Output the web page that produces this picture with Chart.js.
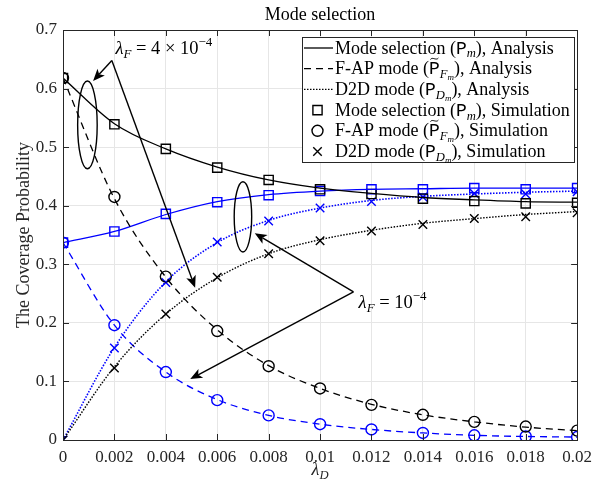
<!DOCTYPE html>
<html>
<head>
<meta charset="utf-8">
<script src="https://cdn.jsdelivr.net/npm/chart.js@4.4.1/dist/chart.umd.min.js"></script>
<style>
  html, body { margin: 0; padding: 0; background: #fff; }
  canvas { display: block; }
</style>
</head>
<body>
<canvas id="myChart" width="599" height="486" style="width:599px;height:486px"></canvas>
<script>
// x values (lambda_D) and tick labels
const lambdaD = [0, 0.002, 0.004, 0.006, 0.008, 0.01, 0.012, 0.014, 0.016, 0.018, 0.02];
const xTicks = [0, 0.002, 0.004, 0.006, 0.008, 0.01, 0.012, 0.014, 0.016, 0.018, 0.02];
const xTickLabels = ['0', '0.002', '0.004', '0.006', '0.008', '0.01', '0.012', '0.014', '0.016', '0.018', '0.02'];
const yTicks = [0, 0.1, 0.2, 0.3, 0.4, 0.5, 0.6, 0.7];
const yTickLabels = ['0', '0.1', '0.2', '0.3', '0.4', '0.5', '0.6', '0.7'];

// lambda_F = 4e-4 (black)
const modeAnaF4 = [0.618, 0.540, 0.497, 0.466, 0.444, 0.430, 0.421, 0.414, 0.410, 0.407, 0.406];
const modeSimF4 = [0.618, 0.539, 0.497, 0.465, 0.444, 0.428, 0.420, 0.412, 0.408, 0.404, 0.405];
const fapAnaF4 = [0.618, 0.412, 0.278, 0.188, 0.127, 0.088, 0.061, 0.043, 0.031, 0.022, 0.016];
const fapSimF4 = [0.618, 0.415, 0.279, 0.186, 0.126, 0.088, 0.060, 0.043, 0.031, 0.023, 0.016];
const d2dAnaF4 = [0, 0.125, 0.215, 0.277, 0.318, 0.342, 0.358, 0.370, 0.378, 0.385, 0.390];
const d2dSimF4 = [0, 0.123, 0.215, 0.278, 0.318, 0.340, 0.357, 0.368, 0.378, 0.381, 0.388];

// lambda_F = 1e-4 (blue)
const modeAnaF1 = [0.337, 0.356, 0.385, 0.407, 0.419, 0.425, 0.428, 0.429, 0.430, 0.430, 0.430];
const modeSimF1 = [0.337, 0.356, 0.386, 0.406, 0.418, 0.425, 0.428, 0.428, 0.430, 0.428, 0.430];
const fapAnaF1 = [0.337, 0.196, 0.116, 0.069, 0.042, 0.027, 0.018, 0.012, 0.008, 0.006, 0.005];
const fapSimF1 = [0.337, 0.196, 0.116, 0.068, 0.042, 0.027, 0.018, 0.012, 0.008, 0.006, 0.005];
const d2dAnaF1 = [0, 0.158, 0.270, 0.337, 0.375, 0.396, 0.409, 0.416, 0.420, 0.423, 0.425];
const d2dSimF1 = [0, 0.157, 0.269, 0.338, 0.374, 0.396, 0.407, 0.415, 0.421, 0.420, 0.424];

const SERIF = '"Liberation Serif", "DejaVu Serif", serif';
const MONO = '"Liberation Mono", "DejaVu Sans Mono", monospace';
const FS = 17;      // tick labels
const TS = 18;      // legend, title, axis labels
const AS = 18.5;    // annotation text
const AXIS_COLOR = '#262626';
const BLACK = '#000000';
const BLUE = '#0000ff';

function pts(arr) {
    return lambdaD.map(function (x, i) { return { x: x, y: arr[i] }; });
}

function analysis(arr, color, dash, width) {
    return {
        data: pts(arr), borderColor: color, borderWidth: width || 1.3, borderDash: dash,
        pointRadius: 0, cubicInterpolationMode: 'monotone', fill: false
    };
}

function simulation(arr, color, style, r) {
    return {
        data: pts(arr), showLine: false, borderColor: color, backgroundColor: 'rgba(0,0,0,0)',
        pointStyle: style, pointRadius: r, pointBorderWidth: 1.4, pointHoverRadius: r
    };
}

// rich text: list of parts, y is the baseline
function drawParts(ctx, x, y, parts, size) {
    var cx = x;
    ctx.textAlign = 'left';
    ctx.textBaseline = 'alphabetic';
    parts.forEach(function (p) {
        var s = size * (p.scale || 1);
        ctx.font = (p.italic ? 'italic ' : '') + s + 'px ' + (p.mono ? MONO : SERIF);
        var w = ctx.measureText(p.t).width;
        ctx.fillText(p.t, cx, y + (p.dy || 0) * size);
        if (p.tilde) {
            // small tilde accent over the letter
            var c = cx + w / 2, t = y - 0.86 * s;
            ctx.save();
            ctx.lineWidth = 1;
            ctx.strokeStyle = ctx.fillStyle;
            ctx.beginPath();
            ctx.moveTo(c - 0.22 * s, t + 0.04 * s);
            ctx.bezierCurveTo(c - 0.1 * s, t - 0.12 * s, c + 0.1 * s, t + 0.12 * s, c + 0.22 * s, t - 0.04 * s);
            ctx.stroke();
            ctx.restore();
        }
        cx += w;
    });
    return cx - x;
}

const PM = [{ t: 'P', mono: true }, { t: 'm', italic: true, scale: 0.7, dy: 0.22 }];
const PF = [{ t: 'P', mono: true, tilde: true }, { t: 'F', italic: true, scale: 0.7, dy: 0.22 }, { t: 'm', italic: true, scale: 0.5, dy: 0.34 }];
const PD = [{ t: 'P', mono: true }, { t: 'D', italic: true, scale: 0.7, dy: 0.22 }, { t: 'm', italic: true, scale: 0.5, dy: 0.34 }];

function label(pre, sym, post) {
    return [{ t: pre }].concat(sym).concat([{ t: post }]);
}

const legendItems = [
    { kind: 'line', dash: [], parts: label('Mode selection (', PM, '), Analysis') },
    { kind: 'line', dash: [7, 5], parts: label('F-AP mode (', PF, '), Analysis') },
    { kind: 'line', dash: [1.5, 1.5], parts: label('D2D mode (', PD, '), Analysis') },
    { kind: 'rect', parts: label('Mode selection (', PM, '), Simulation') },
    { kind: 'circle', parts: label('F-AP mode (', PF, '), Simulation') },
    { kind: 'crossRot', parts: label('D2D mode (', PD, '), Simulation') }
];

function arrow(ctx, x0, y0, x1, y1) {
    var a = Math.atan2(y1 - y0, x1 - x0);
    var len = 12, hw = 5, back = 3;
    ctx.beginPath();
    ctx.moveTo(x0, y0);
    ctx.lineTo(x1 - Math.cos(a) * (len - back), y1 - Math.sin(a) * (len - back));
    ctx.stroke();
    ctx.beginPath();
    ctx.moveTo(x1, y1);
    ctx.lineTo(x1 - Math.cos(a) * len - Math.sin(a) * hw, y1 - Math.sin(a) * len + Math.cos(a) * hw);
    ctx.lineTo(x1 - Math.cos(a) * (len - back), y1 - Math.sin(a) * (len - back));
    ctx.lineTo(x1 - Math.cos(a) * len + Math.sin(a) * hw, y1 - Math.sin(a) * len - Math.cos(a) * hw);
    ctx.closePath();
    ctx.fill();
}

const decor = {
    id: 'decor',
    beforeDraw: function (chart) {
        var ctx = chart.ctx;
        ctx.save();
        ctx.fillStyle = '#fff';
        ctx.fillRect(0, 0, chart.width, chart.height);
        ctx.restore();
    },
    afterDatasetsDraw: function (chart) {
        var ctx = chart.ctx, a = chart.chartArea;
        var xs = chart.scales.x, ys = chart.scales.y;
        var px = function (x) { return xs.getPixelForValue(x); };
        var py = function (y) { return ys.getPixelForValue(y); };
        ctx.save();

        // annotations: ellipses, arrows, texts
        ctx.strokeStyle = BLACK;
        ctx.fillStyle = BLACK;
        ctx.lineWidth = 1.4;
        ctx.beginPath();
        ctx.ellipse(px(0.00095), py(0.538), px(0.00038) - px(0), py(0) - py(0.075), 0, 0, Math.PI * 2);
        ctx.stroke();
        ctx.beginPath();
        ctx.ellipse(px(0.007), py(0.381), px(0.00034) - px(0), py(0) - py(0.06), 0, 0, Math.PI * 2);
        ctx.stroke();

        arrow(ctx, px(0.0019), py(0.648), px(0.00117), py(0.613));
        arrow(ctx, px(0.0019), py(0.648), px(0.00514), py(0.26));
        arrow(ctx, px(0.0113), py(0.253), px(0.00746), py(0.353));
        arrow(ctx, px(0.0113), py(0.253), px(0.00495), py(0.104));

        drawParts(ctx, px(0.00204), py(0.669) + 6, [
            { t: 'λ', italic: true }, { t: 'F', italic: true, scale: 0.7, dy: 0.22 },
            { t: ' = 4 × 10' }, { t: '−4', scale: 0.7, dy: -0.42 }
        ], AS);
        drawParts(ctx, px(0.0115), py(0.236) + 6, [
            { t: 'λ', italic: true }, { t: 'F', italic: true, scale: 0.7, dy: 0.22 },
            { t: ' = 10' }, { t: '−4', scale: 0.7, dy: -0.42 }
        ], AS);

        // box and inward ticks
        ctx.strokeStyle = AXIS_COLOR;
        ctx.lineWidth = 1;
        ctx.setLineDash([]);
        ctx.beginPath();
        xTicks.forEach(function (v) {
            var x = Math.round(px(v)) + 0.5;
            ctx.moveTo(x, a.bottom); ctx.lineTo(x, a.bottom - 6);
            ctx.moveTo(x, a.top); ctx.lineTo(x, a.top + 6);
        });
        yTicks.forEach(function (v) {
            var y = Math.round(py(v)) + 0.5;
            ctx.moveTo(a.left, y); ctx.lineTo(a.left + 6, y);
            ctx.moveTo(a.right, y); ctx.lineTo(a.right - 6, y);
        });
        ctx.stroke();
        ctx.strokeRect(Math.round(a.left) + 0.5, Math.round(a.top) + 0.5, Math.round(a.right - a.left), Math.round(a.bottom - a.top));

        // legend
        var lx = 302, ly = 37, lw = 272, lh = 125;
        ctx.fillStyle = '#fff';
        ctx.fillRect(lx, ly, lw, lh);
        ctx.strokeStyle = AXIS_COLOR;
        ctx.strokeRect(lx + 0.5, ly + 0.5, lw, lh);
        legendItems.forEach(function (item, i) {
            var cy = 48 + i * 20.7;
            ctx.strokeStyle = BLACK;
            ctx.fillStyle = BLACK;
            if (item.kind === 'line') {
                ctx.lineWidth = 1.3;
                ctx.setLineDash(item.dash);
                ctx.beginPath();
                ctx.moveTo(304, cy); ctx.lineTo(333, cy);
                ctx.stroke();
                ctx.setLineDash([]);
            } else {
                ctx.lineWidth = 1.4;
                ctx.fillStyle = 'rgba(0,0,0,0)';
                Chart.helpers.drawPoint(ctx, { pointStyle: item.kind, radius: item.kind === 'circle' ? 5.5 : (item.kind === 'rect' ? 6.5 : 6), borderWidth: 1.4, rotation: 0 }, 317.5, cy);
                ctx.fillStyle = BLACK;
            }
            drawParts(ctx, 335, cy + 5.5, item.parts, TS);
        });
        ctx.restore();
    },
    afterDraw: function (chart) {
        var ctx = chart.ctx, a = chart.chartArea;
        var mid = (a.left + a.right) / 2;
        ctx.save();
        ctx.fillStyle = BLACK;
        ctx.font = TS + 'px ' + SERIF;
        ctx.textAlign = 'center';
        ctx.textBaseline = 'alphabetic';
        ctx.fillText('Mode selection', mid, 20);

        ctx.fillStyle = AXIS_COLOR;
        ctx.font = 'italic ' + TS + 'px ' + SERIF;
        var w = ctx.measureText('λ').width + ctx.measureText('D').width * 0.7;
        drawParts(ctx, mid - w / 2, 475, [{ t: 'λ', italic: true }, { t: 'D', italic: true, scale: 0.7, dy: 0.22 }], TS);

        ctx.translate(29, (a.top + a.bottom) / 2);
        ctx.rotate(-Math.PI / 2);
        ctx.font = TS + 'px ' + SERIF;
        ctx.textAlign = 'center';
        ctx.fillText('The Coverage Probability', 0, 0);
        ctx.restore();
    }
};

const tickFont = { family: SERIF, size: FS };

new Chart(document.getElementById('myChart'), {
    type: 'line',
    data: {
        datasets: [
            analysis(modeAnaF4, BLACK, []),
            analysis(fapAnaF4, BLACK, [7, 5]),
            analysis(d2dAnaF4, BLACK, [1.5, 1.5], 1.4),
            analysis(modeAnaF1, BLUE, []),
            analysis(fapAnaF1, BLUE, [7, 5]),
            analysis(d2dAnaF1, BLUE, [1.5, 1.5], 1.6),
            simulation(modeSimF4, BLACK, 'rect', 6.5),
            simulation(fapSimF4, BLACK, 'circle', 5.5),
            simulation(d2dSimF4, BLACK, 'crossRot', 6),
            simulation(modeSimF1, BLUE, 'rect', 6.5),
            simulation(fapSimF1, BLUE, 'circle', 5.5),
            simulation(d2dSimF1, BLUE, 'crossRot', 6)
        ]
    },
    options: {
        responsive: false,
        animation: false,
        layout: { padding: { top: 30, right: 16, left: 0, bottom: 0 } },
        plugins: { legend: { display: false }, title: { display: false }, tooltip: { enabled: false } },
        scales: {
            x: {
                type: 'linear', min: 0, max: 0.02,
                afterBuildTicks: function (s) { s.ticks = xTicks.map(function (v) { return { value: v }; }); },
                afterFit: function (s) { s.height = 46; },
                ticks: {
                    autoSkip: false, maxRotation: 0, padding: 7, color: AXIS_COLOR, font: tickFont,
                    callback: function (v, i) { return xTickLabels[i]; }
                },
                grid: { color: '#e6e6e6', drawTicks: false },
                border: { display: false }
            },
            y: {
                type: 'linear', min: 0, max: 0.7,
                afterBuildTicks: function (s) { s.ticks = yTicks.map(function (v) { return { value: v }; }); },
                afterFit: function (s) { s.width = 63; },
                ticks: {
                    padding: 6, color: AXIS_COLOR, font: tickFont,
                    callback: function (v, i) { return yTickLabels[i]; }
                },
                grid: { color: '#e6e6e6', drawTicks: false },
                border: { display: false }
            }
        }
    },
    plugins: [decor]
});
</script>
</body>
</html>
